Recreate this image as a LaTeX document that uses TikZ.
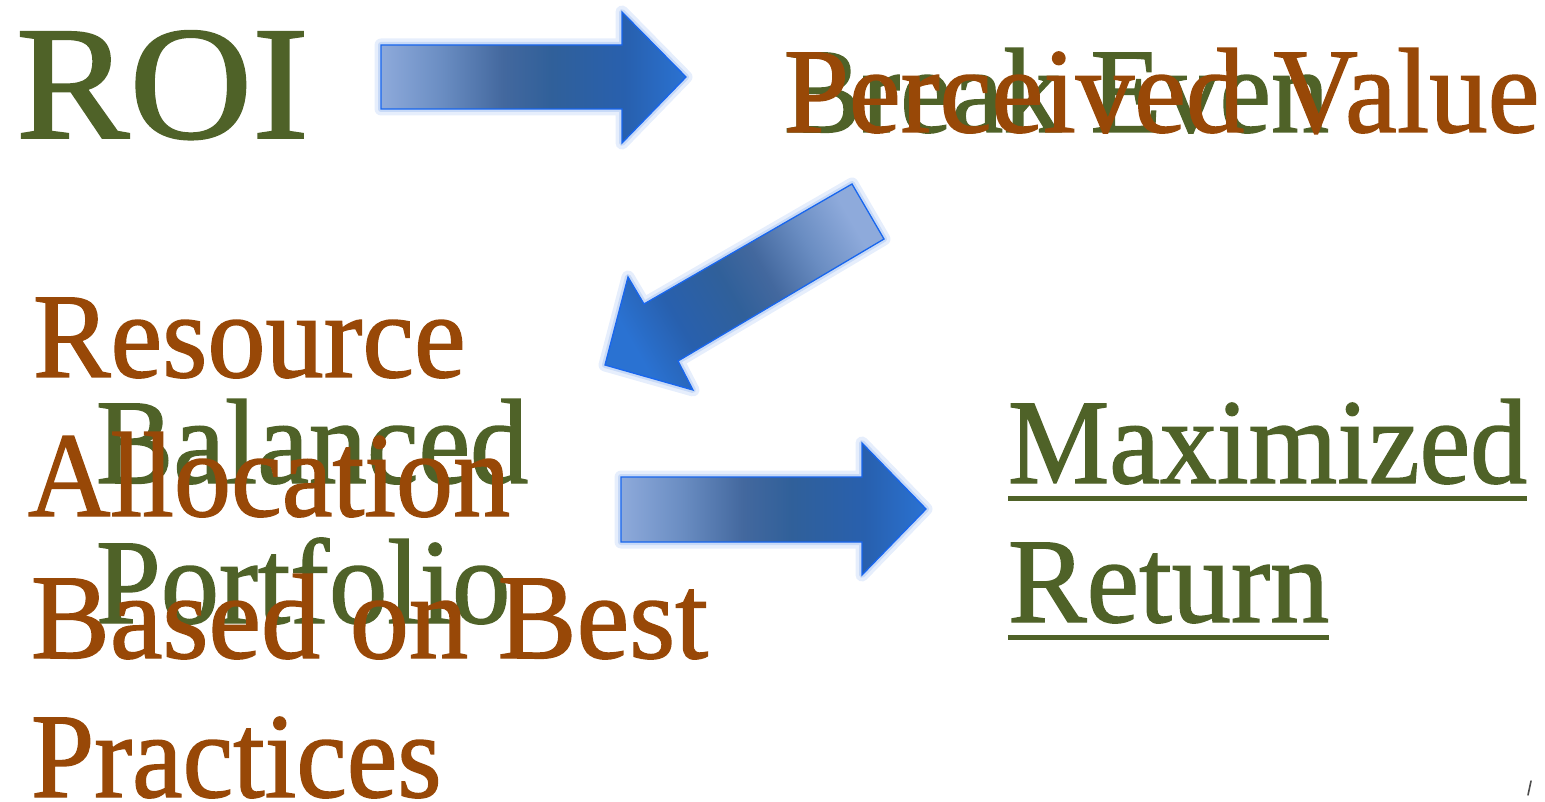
\documentclass[tikz,border=0pt]{standalone}
\usepackage{fontspec}
\setmainfont{Liberation Serif}
\newfontfamily\heavyserif[FakeBold=1.2]{Liberation Serif}
\definecolor{olv}{HTML}{4F6228}
\definecolor{rst}{HTML}{984807}
\definecolor{ashA}{HTML}{8EAADB}
\definecolor{ashB}{HTML}{6A8DC2}
\definecolor{ashC}{HTML}{43689E}
\definecolor{ashD}{HTML}{30609A}
\definecolor{ashE}{HTML}{2860AE}
\definecolor{ashF}{HTML}{2A72D2}
\definecolor{aline}{HTML}{1866EE}
\definecolor{glowA}{HTML}{E6EEFC}
\definecolor{glowB}{HTML}{C8DAF7}
\pgfdeclarehorizontalshading{arrowshade}{100bp}{color(0bp)=(ashA); color(25bp)=(ashA); color(35bp)=(ashB); color(45bp)=(ashC); color(53bp)=(ashD); color(65bp)=(ashE); color(75bp)=(ashF); color(100bp)=(ashF)}
\newcommand{\condense}[1]{\scalebox{0.96}[1]{#1}}
\begin{document}
\begin{tikzpicture}[x=1pt,y=1pt,
  txt/.style={anchor=base west, inner sep=0pt, outer sep=0pt, font=\heavyserif\fontsize{121}{140}\selectfont},
  grn/.style={txt, text=olv},
  brn/.style={txt, text=rst},
  blockarrow/.style={shading=arrowshade, draw=aline, line width=1.3pt, line join=miter,
    preaction={draw=glowA, line width=13pt, line join=round},
    preaction={draw=glowB, line width=6pt, line join=round}},
  uline/.style={draw=olv, line width=5pt}]
\useasboundingbox (0,-802) rectangle (1545,0);

% ROI
\node[txt, text=olv, font=\heavyserif\fontsize{162}{170}\selectfont] (roi) at (16,-138) {\scalebox{1.05}[1]{ROI}};

% arrows
\path[blockarrow] (381,-45) -- (622,-45) -- (622,-12) -- (686,-77) -- (622,-143) -- (622,-109) -- (381,-109) -- cycle;
\path[blockarrow, shading angle=210] (852,-184) -- (884,-239) -- (678,-361) -- (693,-390) -- (605,-365) -- (628,-277) -- (644,-304) -- cycle;
\path[blockarrow] (621,-477) -- (862,-477) -- (862,-443) -- (926,-509) -- (862,-575) -- (862,-542) -- (621,-542) -- cycle;

% top right overlapping texts
\node[grn] (brk) at (784,-132) {\scalebox{0.96}[1]{Break Even}};
\node[brn] (perc) at (784,-132) {\scalebox{0.965}[1]{Perceived Value}};

% left overlapping texts
\node[grn] (bal1) at (96,-483) {\condense{Balanced}};
\node[grn] (bal2) at (96,-623) {\scalebox{0.963}[1]{Portfolio}};
\node[brn] (res1) at (33,-377) {\scalebox{0.961}[1]{Resource}};
\node[brn] (res2) at (28,-516) {\scalebox{0.944}[1]{Allocation}};
\node[brn] (res3) at (31,-658) {\scalebox{0.978}[1]{Based on Best}};
\node[brn] (res4) at (31,-797) {\scalebox{0.94}[1]{Practices}};

% right text
\node[grn] (max1) at (1008,-483) {\scalebox{0.942}[1]{Maximized}};
\node[grn] (max2) at (1008,-622) {\scalebox{0.975}[1]{Return}};
\draw[uline] ([yshift=-15pt]max1.base west) -- ([yshift=-15pt]max1.base east);
\draw[uline] ([yshift=-15pt]max2.base west) -- ([yshift=-15pt]max2.base east);

% small mark
\draw[gray!60!black, line width=1.6pt, line cap=round] (1531,-781) -- (1528,-795);
\end{tikzpicture}
\end{document}
